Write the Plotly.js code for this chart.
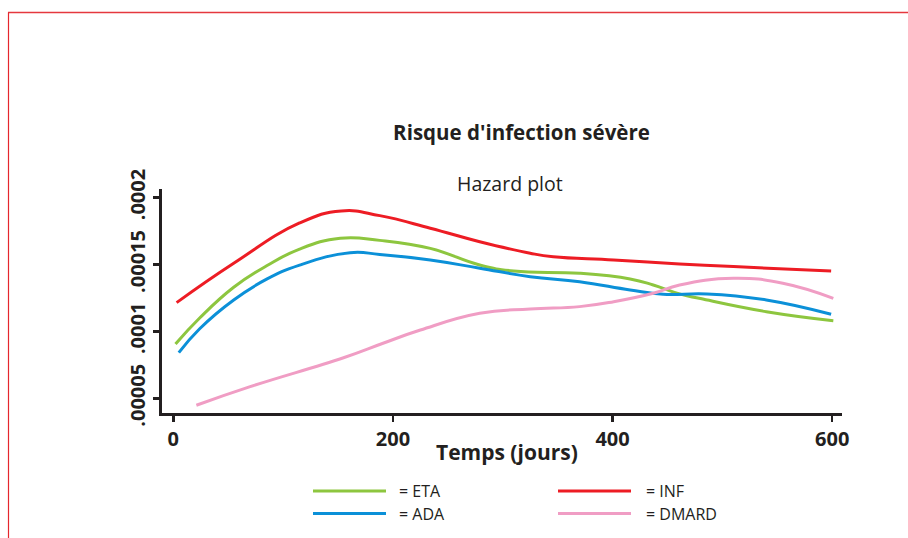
<!DOCTYPE html>
<html>
<head>
<meta charset="utf-8">
<script src="https://cdn.plot.ly/plotly-3.0.1.min.js"></script>
<style>
  html, body { margin: 0; padding: 0; background: #ffffff; }
  #chart { width: 908px; height: 538px; }
</style>
</head>
<body>
<div id="chart"></div>
<script>
// ---- Data ----
const seriesNames = ['ETA', 'ADA', 'INF', 'DMARD'];
const seriesColors = ['#8dc63f', '#0b90d8', '#ed1c24', '#f09dc4'];

const daysETA = [2, 24, 55, 85, 115, 152, 188, 234, 279, 310, 370, 416, 437, 461, 480, 540, 601];
const hazETA  = [9.06e-5, 11.0e-5, 13.3e-5, 14.9e-5, 16.15e-5, 16.96e-5, 16.8e-5, 16.2e-5, 14.96e-5, 14.51e-5, 14.34e-5, 13.92e-5, 13.47e-5, 12.8e-5, 12.45e-5, 11.47e-5, 10.80e-5];

const daysADA = [5, 24, 55, 85, 115, 161, 188, 234, 279, 325, 370, 416, 446, 486, 540, 599];
const hazADA  = [8.41e-5, 10.2e-5, 12.35e-5, 13.9e-5, 14.95e-5, 15.88e-5, 15.75e-5, 15.34e-5, 14.72e-5, 14.09e-5, 13.71e-5, 13.09e-5, 12.77e-5, 12.80e-5, 12.35e-5, 11.28e-5];

const daysINF = [3, 55, 115, 153, 188, 234, 279, 325, 346, 401, 461, 510, 599];
const hazINF  = [12.15e-5, 15.09e-5, 18.1e-5, 19.0e-5, 18.65e-5, 17.71e-5, 16.70e-5, 15.84e-5, 15.58e-5, 15.34e-5, 15.04e-5, 14.84e-5, 14.51e-5];

const daysDMARD = [21, 70, 155, 191, 225, 279, 325, 370, 401, 437, 461, 510, 555, 601];
const hazDMARD  = [4.48e-5, 5.87e-5, 8.03e-5, 9.11e-5, 10.1e-5, 11.35e-5, 11.67e-5, 11.85e-5, 12.22e-5, 12.85e-5, 13.47e-5, 13.97e-5, 13.6e-5, 12.47e-5];

const xTickVals = [0, 200, 400, 600];
const xTickText = ['0', '200', '400', '600'];
const yTickVals = [0.00005, 0.0001, 0.00015, 0.0002];
const yTickText = ['.00005', '.0001', '.00015', '.0002'];

const titleText = "Risque d'infection sévère";
const subtitleText = 'Hazard plot';
const xTitleText = 'Temps (jours)';

// ---- Build ----
const FONT = '"Open Sans", "Noto Sans", Arial, sans-serif';
const INK = '#231f20';

const xs = [daysETA, daysADA, daysINF, daysDMARD];
const ys = [hazETA, hazADA, hazINF, hazDMARD];

const traces = seriesNames.map((n, i) => ({
  type: 'scatter',
  mode: 'lines',
  name: n,
  x: xs[i],
  y: ys[i],
  line: { color: seriesColors[i], width: 3, shape: 'spline', smoothing: 1.3 },
  hoverinfo: 'x+y+name'
}));

// plot area in pixels: left 162, right 842, top 189, bottom 413
const L = 162, R = 842, T = 189, B = 413;
const W = R - L, H = B - T;
const px2x = p => (p - L) / W;
const py2y = p => (B - p) / H;

const shapes = [];
const annotations = [];

// custom legend (2 columns x 2 rows), from series names/colors
const legCols = [{ x0: 313, x1: 386, tx: 397 }, { x0: 558, x1: 631, tx: 644 }];
const legRows = [491, 513.5];
const legOrder = [[0, 0], [1, 0], [0, 1], [1, 1]]; // [row, col] for ETA, ADA, INF, DMARD
seriesNames.forEach((n, i) => {
  const [r, c] = legOrder[i];
  const col = legCols[c];
  shapes.push({
    type: 'line', xref: 'paper', yref: 'paper',
    x0: px2x(col.x0), x1: px2x(col.x1), y0: py2y(legRows[r]), y1: py2y(legRows[r]),
    line: { color: seriesColors[i], width: 3 }
  });
  annotations.push({
    xref: 'paper', yref: 'paper', x: px2x(col.tx), y: py2y(legRows[r]),
    xanchor: 'left', yanchor: 'middle', showarrow: false,
    text: '= ' + n, font: { family: FONT, size: 16, color: INK }
  });
});

// red page frame (top and left edges)
shapes.push({ type: 'line', xref: 'paper', yref: 'paper',
  x0: px2x(8), x1: px2x(910), y0: py2y(12.5), y1: py2y(12.5),
  line: { color: '#e5383e', width: 1.5 } });
shapes.push({ type: 'line', xref: 'paper', yref: 'paper',
  x0: px2x(8.5), x1: px2x(8.5), y0: py2y(12.5), y1: py2y(545),
  line: { color: '#e5262d', width: 1.2 } });

// subtitle and x-axis title
annotations.push({
  xref: 'paper', yref: 'paper', x: px2x(510.5), y: py2y(183),
  xanchor: 'center', yanchor: 'middle', showarrow: false,
  text: subtitleText, font: { family: FONT, size: 19.5, color: INK }
});
annotations.push({
  xref: 'paper', yref: 'paper', x: px2x(506.5), y: py2y(452),
  xanchor: 'center', yanchor: 'middle', showarrow: false,
  text: '<b>' + xTitleText + '</b>', font: { family: FONT, size: 21, color: INK }
});

const layout = {
  width: 908, height: 538,
  paper_bgcolor: '#ffffff', plot_bgcolor: '#ffffff',
  margin: { l: L, r: 908 - R, t: T, b: 538 - B, pad: 0 },
  showlegend: false,
  title: {
    text: '<b>' + titleText + '</b>',
    font: { family: FONT, size: 20.5, color: INK },
    xref: 'container', yref: 'container',
    x: 521.5 / 908, y: 1 - 133 / 538, xanchor: 'center', yanchor: 'middle'
  },
  xaxis: {
    range: [-10.3, 608.9],
    tickvals: xTickVals, ticktext: xTickText,
    ticks: 'outside', ticklen: 6, tickwidth: 2.5, tickcolor: INK,
    showline: true, linecolor: INK, linewidth: 3,
    showgrid: false, zeroline: false,
    tickfont: { family: FONT, size: 20, color: INK, weight: 'bold' },
    fixedrange: true
  },
  yaxis: {
    range: [3.90e-5, 20.64e-5],
    tickvals: yTickVals, ticktext: yTickText,
    tickangle: -90,
    ticks: 'outside', ticklen: 6, tickwidth: 2.5, tickcolor: INK,
    showline: true, linecolor: INK, linewidth: 3,
    showgrid: false, zeroline: false,
    tickfont: { family: FONT, size: 20, color: INK, weight: 'bold' },
    fixedrange: true
  },
  shapes: shapes,
  annotations: annotations
};

Plotly.newPlot('chart', traces, layout, { displayModeBar: false, staticPlot: true });
</script>
</body>
</html>
